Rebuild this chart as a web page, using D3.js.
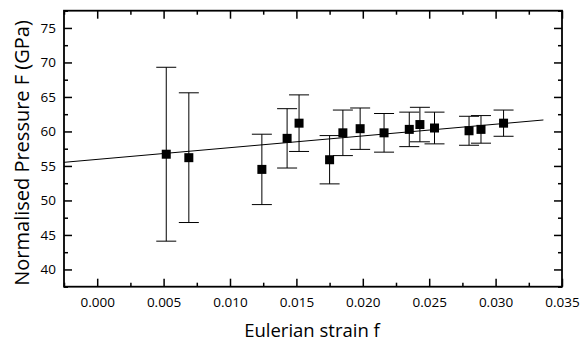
<!DOCTYPE html>
<html><head><meta charset="utf-8">
<script src="https://cdn.jsdelivr.net/npm/d3@7"></script>
<style>
body{margin:0;background:#fff;}
text{font-family:"Open Sans","Noto Sans",sans-serif;fill:#000;}
</style></head>
<body><svg id="c" width="580" height="344"></svg>
<script>
const strain   = [0.0052, 0.0069, 0.0124, 0.0143, 0.0152, 0.0175, 0.0185, 0.0198, 0.0216, 0.0235, 0.0243, 0.0254, 0.0280, 0.0289, 0.0306];
const pressure = [56.7, 56.2, 54.5, 59.0, 61.2, 55.9, 59.8, 60.4, 59.8, 60.3, 61.0, 60.5, 60.1, 60.3, 61.2];
const errors   = [12.6, 9.4, 5.1, 4.3, 4.1, 3.5, 3.3, 3.0, 2.8, 2.5, 2.5, 2.3, 2.1, 2.0, 1.9];
const xTicks = [0.000, 0.005, 0.010, 0.015, 0.020, 0.025, 0.030, 0.035];
const yTicks = [40, 45, 50, 55, 60, 65, 70, 75];
const fitIntercept = 55.95, fitSlope = 170, fitRange = [-0.0025, 0.0336];
const xTitle = "Eulerian strain f";
const yTitle = "Normalised Pressure F (GPa)";

const L = 64, R = 562, T = 10.7, B = 286.7;
const x = d3.scaleLinear().domain([-0.0025, 0.035]).range([L, R]);
const y = d3.scaleLinear().domain([37.5, 77.5]).range([B, T]);
const svg = d3.select("#c");

const xMinor = d3.range(-0.0025, 0.0351, 0.0025).filter(v => !xTicks.some(t => Math.abs(t - v) < 1e-6));
const yMinor = d3.range(37.5, 77.6, 2.5).filter(v => !yTicks.some(t => Math.abs(t - v) < 1e-6));

function addAxis(axisFn, scale, major, minor, transform, labels) {
  const gMaj = svg.append("g").attr("transform", transform)
    .call(axisFn(scale).tickValues(major).tickSizeInner(-8).tickSizeOuter(0)
      .tickFormat(labels ? (scale === x ? d3.format(".3f") : d3.format("d")) : ""));
  gMaj.select(".domain").remove();
  gMaj.selectAll("line").attr("stroke", "#000").attr("stroke-width", 1.5);
  gMaj.selectAll("text").attr("font-size", 13.5);
  const gMin = svg.append("g").attr("transform", transform)
    .call(axisFn(scale).tickValues(minor).tickSizeInner(-4).tickSizeOuter(0).tickFormat(""));
  gMin.select(".domain").remove();
  gMin.selectAll("line").attr("stroke", "#000").attr("stroke-width", 1.5);
  return gMaj;
}
const gx = addAxis(d3.axisBottom, x, xTicks, xMinor, `translate(0,${B})`, true);
gx.selectAll("text").attr("dy", null).attr("y", 20.5);
addAxis(d3.axisTop, x, xTicks, xMinor, `translate(0,${T})`, false);
const gy = addAxis(d3.axisLeft, y, yTicks, yMinor, `translate(${L},0)`, true);
gy.selectAll("text").attr("x", -8);
addAxis(d3.axisRight, y, yTicks, yMinor, `translate(${R},0)`, false);

svg.append("rect").attr("x", L).attr("y", T).attr("width", R - L).attr("height", B - T)
  .attr("fill", "none").attr("stroke", "#000").attr("stroke-width", 1.8);

// fit line
svg.append("line")
  .attr("x1", x(fitRange[0])).attr("y1", y(fitIntercept + fitSlope * fitRange[0]))
  .attr("x2", x(fitRange[1])).attr("y2", y(fitIntercept + fitSlope * fitRange[1]))
  .attr("stroke", "#000").attr("stroke-width", 1);

const data = strain.map((s, i) => ({s, p: pressure[i], e: errors[i]}));
const eb = svg.append("g").attr("stroke", "#000").attr("stroke-width", 1);
data.forEach(d => {
  eb.append("line").attr("x1", x(d.s)).attr("x2", x(d.s)).attr("y1", y(d.p + d.e)).attr("y2", y(d.p - d.e));
  eb.append("line").attr("x1", x(d.s) - 10).attr("x2", x(d.s) + 10).attr("y1", y(d.p + d.e)).attr("y2", y(d.p + d.e));
  eb.append("line").attr("x1", x(d.s) - 10).attr("x2", x(d.s) + 10).attr("y1", y(d.p - d.e)).attr("y2", y(d.p - d.e));
});
svg.append("g").selectAll("rect").data(data).join("rect")
  .attr("x", d => x(d.s) - 4.5).attr("y", d => y(d.p) - 4.5)
  .attr("width", 9).attr("height", 9).attr("fill", "#000");

svg.append("text").attr("x", (L + R) / 2 - 1).attr("y", 337).attr("text-anchor", "middle")
  .attr("font-size", 18.5).text(xTitle);
svg.append("text").attr("transform", `translate(29,153) rotate(-90)`)
  .attr("text-anchor", "middle").attr("font-size", 20).text(yTitle);
</script></body></html>
